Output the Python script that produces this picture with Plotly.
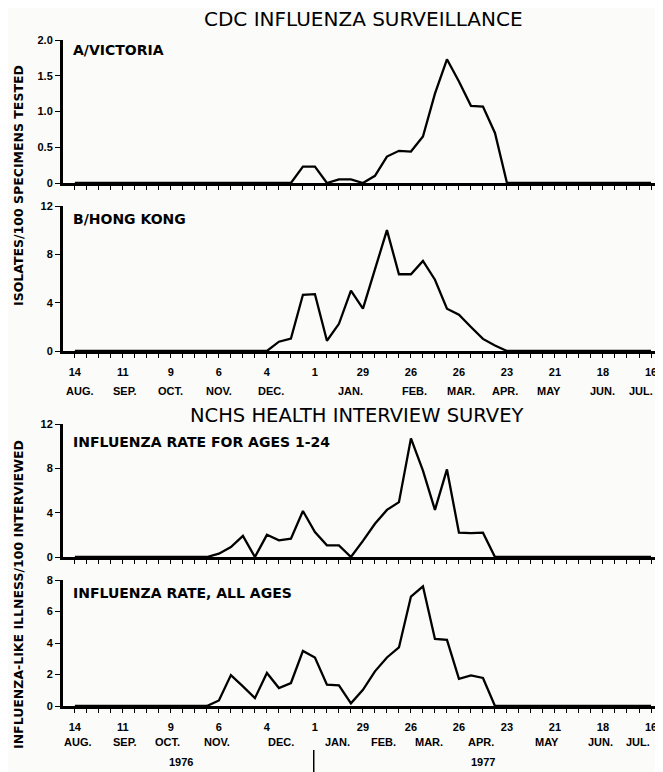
import plotly.graph_objects as go

# ---------------- data ----------------
weeks = list(range(49))  # weekly, 14 Aug 1976 .. 16 Jul 1977
tick_numbers = ["14", "11", "9", "6", "4", "1", "29", "26", "26", "23", "21", "18", "16"]
months_top = ["AUG.", "SEP.", "OCT.", "NOV.", "DEC.", "JAN.", "FEB.", "MAR.", "APR.", "MAY", "JUN.", "JUL."]
months_top_pos = [0.4, 4.2, 8.0, 12.0, 16.3, 23.0, 28.3, 32.2, 35.8, 39.5, 44.0, 47.2]
months_bot = ["AUG.", "SEP.", "OCT.", "NOV.", "DEC.", "JAN.", "FEB.", "MAR.", "APR.", "MAY", "JUN.", "JUL."]
months_bot_pos = [0.3, 4.2, 7.7, 11.8, 17.2, 21.9, 25.7, 29.5, 33.8, 39.3, 43.8, 46.9]
years = ["1976", "1977"]
years_pos = [8.8, 34.0]

a_victoria = [0] * 19 + [0.23, 0.23, 0, 0.05, 0.05, 0, 0.1, 0.37, 0.45, 0.44, 0.65, 1.25,
                         1.73, 1.42, 1.08, 1.07, 0.7, 0] + [0] * 12
b_hong_kong = [0] * 17 + [0.77, 1.02, 4.65, 4.7, 0.85, 2.25, 5.0, 3.5, 6.75, 10.0, 6.35,
                          6.35, 7.45, 5.9, 3.5, 3.0, 1.98, 1.0, 0.45] + [0] * 13
ages_1_24 = [0] * 12 + [0.3, 0.9, 1.9, 0, 2.0, 1.5, 1.65, 4.15, 2.25, 1.05, 1.05, 0, 1.45,
                        3.0, 4.25, 4.95, 10.7, 7.8, 4.25, 7.9, 2.2, 2.15, 2.2] + [0] * 14
all_ages = [0] * 12 + [0.35, 1.96, 1.25, 0.5, 2.1, 1.14, 1.46, 3.5, 3.08, 1.35, 1.31, 0.17,
                       1.03, 2.2, 3.08, 3.72, 6.95, 7.6, 4.26, 4.2, 1.72, 1.94, 1.78] + [0] * 14

panel_labels = ["A/VICTORIA", "B/HONG KONG", "INFLUENZA RATE FOR AGES 1-24", "INFLUENZA RATE, ALL AGES"]
y_ticks = [[0, 0.5, 1.0, 1.5, 2.0], [0, 4, 8, 12], [0, 4, 8, 12], [0, 2, 4, 6, 8]]
y_ticktext = [["0", "0.5", "1.0", "1.5", "2.0"], ["0", "4", "8", "12"], ["0", "4", "8", "12"],
              ["0", "2", "4", "6", "8"]]
y_max = [2.0, 12, 12, 8]

# ---------------- layout helpers ----------------
# page body has an 8px margin: figure is placed at (8, 8) in the window
OFF = 8
WIN_W, WIN_H = 663, 772
W, H = WIN_W - OFF, WIN_H - OFF
ML_WIN = 63
ML = ML_WIN - OFF


def py(px):  # window pixel -> paper y
    return 1 - (px - OFF) / H


def pxx(px):  # window pixel -> paper x
    return (px - ML_WIN) / (W - ML)


# (top px, zero px) for each panel, window pixels
panels_px = [(40, 183), (206, 351), (424, 557), (580, 706)]
series = [a_victoria, b_hong_kong, ages_1_24, all_ages]
label_px = [50, 219, 442, 593]

FONT = "Liberation Sans"
BFONT = "DejaVu Sans"
fig = go.Figure()
ticktext_x = [tick_numbers[w // 4] if w % 4 == 0 else "" for w in weeks]

for i in range(4):
    n = "" if i == 0 else str(i + 1)
    fig.add_trace(go.Scatter(x=weeks, y=series[i], mode="lines",
                             line=dict(color="black", width=2.3),
                             xaxis="x" + n, yaxis="y" + n, cliponaxis=False,
                             showlegend=False, hoverinfo="skip"))
    top, zero = panels_px[i]
    show_lbl = i in (1, 3)
    fig.layout["xaxis" + n] = dict(
        domain=[0, 1], anchor="y" + n, range=[-0.99, 49.0], automargin=False,
        showline=True, linecolor="black", linewidth=3,
        ticks="outside", ticklen=4, tickwidth=1.2, tickcolor="black",
        tickvals=weeks, ticktext=ticktext_x if show_lbl else [""] * len(weeks),
        showticklabels=show_lbl, ticklabelstandoff=5,
        tickfont=dict(family=FONT, size=11, color="black", weight="bold"),
        showgrid=False, zeroline=False, fixedrange=True)
    fig.layout["yaxis" + n] = dict(
        domain=[py(zero), py(top)], anchor="x" + n, range=[0, y_max[i]], automargin=False,
        showline=True, linecolor="black", linewidth=3,
        ticks="outside", ticklen=5, tickwidth=1.2, tickcolor="black",
        tickvals=y_ticks[i], ticktext=y_ticktext[i],
        tickfont=dict(family=FONT, size=11, color="black", weight="bold"),
        showgrid=False, zeroline=False, fixedrange=True)

annotations = []
for i in range(4):
    annotations.append(dict(text=panel_labels[i], xref="paper", yref="paper",
                            x=pxx(71), y=py(label_px[i]), xanchor="left", yanchor="middle",
                            showarrow=False,
                            font=dict(family=BFONT, size=14, color="black", weight="bold")))

annotations.append(dict(text="CDC INFLUENZA SURVEILLANCE", xref="paper", yref="paper",
                        x=pxx(363), y=py(19), xanchor="center", yanchor="middle", showarrow=False,
                        font=dict(family="DejaVu Sans", size=20, color="black")))
annotations.append(dict(text="NCHS HEALTH INTERVIEW SURVEY", xref="paper", yref="paper",
                        x=pxx(356), y=py(415), xanchor="center", yanchor="middle", showarrow=False,
                        font=dict(family="DejaVu Sans", size=19.5, color="black")))

annotations.append(dict(text="ISOLATES/100 SPECIMENS TESTED", xref="paper", yref="paper",
                        x=pxx(18), y=py(186), xanchor="center", yanchor="middle", textangle=-90,
                        showarrow=False,
                        font=dict(family=BFONT, size=12.5, color="black", weight="bold")))
annotations.append(dict(text="INFLUENZA-LIKE ILLNESS/100 INTERVIEWED", xref="paper", yref="paper",
                        x=pxx(18), y=py(595), xanchor="center", yanchor="middle", textangle=-90,
                        showarrow=False,
                        font=dict(family=BFONT, size=12.5, color="black", weight="bold")))

for m, p in zip(months_top, months_top_pos):
    annotations.append(dict(text=m, xref="x2", yref="paper", x=p, y=py(391),
                            xanchor="center", yanchor="middle", showarrow=False,
                            font=dict(family=FONT, size=11, color="black", weight="bold")))
for m, p in zip(months_bot, months_bot_pos):
    annotations.append(dict(text=m, xref="x4", yref="paper", x=p, y=py(742),
                            xanchor="center", yanchor="middle", showarrow=False,
                            font=dict(family=FONT, size=11, color="black", weight="bold")))
for t, p in zip(years, years_pos):
    annotations.append(dict(text=t, xref="x4", yref="paper", x=p, y=py(762),
                            xanchor="center", yanchor="middle", showarrow=False,
                            font=dict(family=FONT, size=11, color="black", weight="bold")))

shapes = [dict(type="line", xref="x4", yref="paper", x0=19.9, x1=19.9, y0=py(750), y1=0,
               line=dict(color="black", width=1.5))]

fig.update_layout(width=W, height=H, margin=dict(l=ML, r=0, t=0, b=0, pad=0, autoexpand=False),
                  paper_bgcolor="#fbfbf9", plot_bgcolor="rgba(0,0,0,0)",
                  annotations=annotations, shapes=shapes, showlegend=False)

fig.write_html("out.html")
